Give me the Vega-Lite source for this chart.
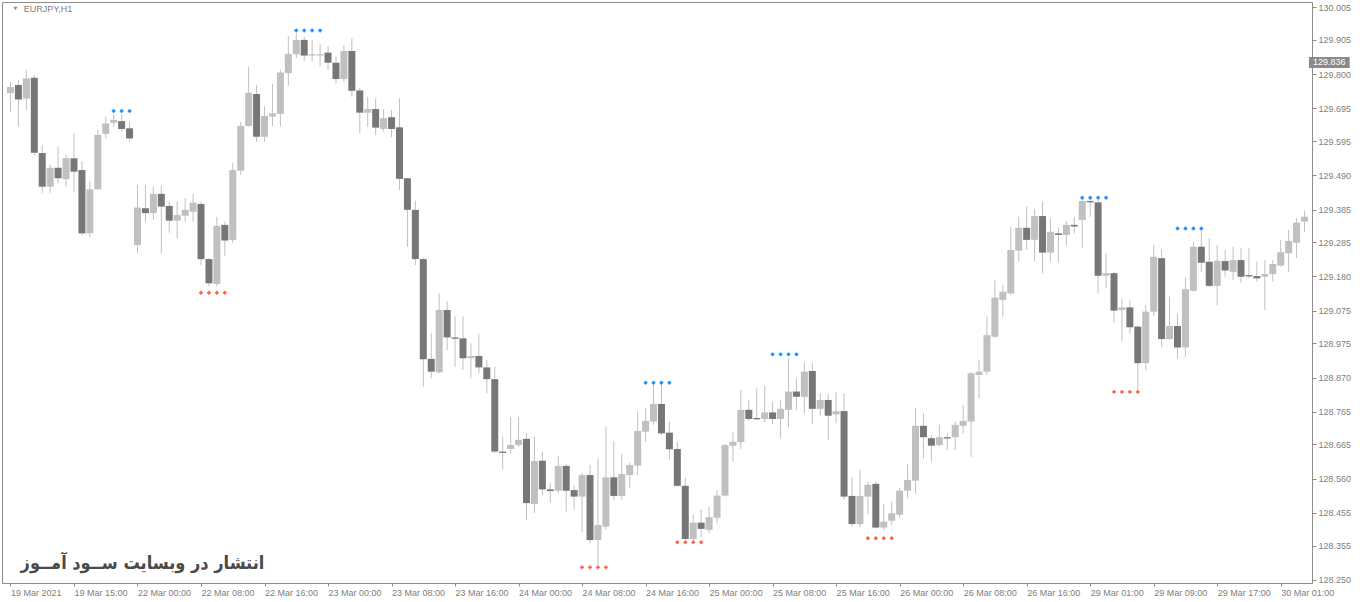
{
"$schema":"https://vega.github.io/schema/vega-lite/v6.json",
"width":1310,"height":581,
"autosize":{"type":"none"},
"padding":{"left":2,"top":2,"right":48,"bottom":19},
"background":"white",
"config":{"view":{"stroke":"#8c8c8c","strokeWidth":1},
 "axis":{"labelFont":"Liberation Sans","labelFontSize":9,"labelColor":"#808080","tickColor":"#8c8c8c","domainColor":"#8c8c8c","grid":false,"labelOverlap":false,"labelFlush":false,"labelBound":false,"tickCount":40},
 "axisX":{"labelAlign":"left","labelBaseline":"top","labelPadding":2,"tickSize":3,"domain":true},
 "axisY":{"tickSize":4,"labelPadding":2,"domain":false,"labelBaseline":"middle"}},
"datasets":{
"candles":[
{"i":0,"o":129.742,"h":129.776,"l":129.684,"c":129.761},
{"i":1,"o":129.767,"h":129.782,"l":129.639,"c":129.722},
{"i":2,"o":129.725,"h":129.813,"l":129.690,"c":129.787},
{"i":3,"o":129.789,"h":129.797,"l":129.552,"c":129.559},
{"i":4,"o":129.558,"h":129.583,"l":129.436,"c":129.455},
{"i":5,"o":129.455,"h":129.522,"l":129.436,"c":129.513},
{"i":6,"o":129.513,"h":129.578,"l":129.465,"c":129.481},
{"i":7,"o":129.478,"h":129.552,"l":129.455,"c":129.542},
{"i":8,"o":129.542,"h":129.620,"l":129.440,"c":129.501},
{"i":9,"o":129.506,"h":129.532,"l":129.307,"c":129.312},
{"i":10,"o":129.312,"h":129.470,"l":129.302,"c":129.447},
{"i":11,"o":129.447,"h":129.629,"l":129.445,"c":129.614},
{"i":12,"o":129.617,"h":129.670,"l":129.603,"c":129.649},
{"i":13,"o":129.651,"h":129.675,"l":129.639,"c":129.660},
{"i":14,"o":129.656,"h":129.675,"l":129.624,"c":129.632},
{"i":15,"o":129.634,"h":129.654,"l":129.593,"c":129.603},
{"i":16,"o":129.276,"h":129.460,"l":129.251,"c":129.391},
{"i":17,"o":129.389,"h":129.460,"l":129.347,"c":129.374},
{"i":18,"o":129.374,"h":129.455,"l":129.353,"c":129.433},
{"i":19,"o":129.433,"h":129.458,"l":129.251,"c":129.394},
{"i":20,"o":129.396,"h":129.409,"l":129.314,"c":129.351},
{"i":21,"o":129.351,"h":129.409,"l":129.297,"c":129.368},
{"i":22,"o":129.366,"h":129.420,"l":129.348,"c":129.384},
{"i":23,"o":129.378,"h":129.433,"l":129.348,"c":129.406},
{"i":24,"o":129.402,"h":129.409,"l":129.215,"c":129.233},
{"i":25,"o":129.233,"h":129.236,"l":129.149,"c":129.159},
{"i":26,"o":129.157,"h":129.363,"l":129.149,"c":129.335},
{"i":27,"o":129.338,"h":129.348,"l":129.243,"c":129.290},
{"i":28,"o":129.292,"h":129.527,"l":129.282,"c":129.506},
{"i":29,"o":129.504,"h":129.654,"l":129.491,"c":129.641},
{"i":30,"o":129.641,"h":129.823,"l":129.639,"c":129.743},
{"i":31,"o":129.739,"h":129.767,"l":129.593,"c":129.608},
{"i":32,"o":129.608,"h":129.702,"l":129.593,"c":129.672},
{"i":33,"o":129.670,"h":129.770,"l":129.641,"c":129.680},
{"i":34,"o":129.678,"h":129.813,"l":129.639,"c":129.805},
{"i":35,"o":129.803,"h":129.917,"l":129.764,"c":129.862},
{"i":36,"o":129.861,"h":129.925,"l":129.849,"c":129.905},
{"i":37,"o":129.905,"h":129.915,"l":129.841,"c":129.857},
{"i":38,"o":129.857,"h":129.905,"l":129.838,"c":129.861},
{"i":39,"o":129.857,"h":129.893,"l":129.823,"c":129.861},
{"i":40,"o":129.866,"h":129.886,"l":129.813,"c":129.835},
{"i":41,"o":129.835,"h":129.854,"l":129.772,"c":129.785},
{"i":42,"o":129.785,"h":129.889,"l":129.777,"c":129.871},
{"i":43,"o":129.871,"h":129.910,"l":129.731,"c":129.749},
{"i":44,"o":129.750,"h":129.757,"l":129.619,"c":129.682},
{"i":45,"o":129.682,"h":129.729,"l":129.639,"c":129.693},
{"i":46,"o":129.693,"h":129.726,"l":129.614,"c":129.636},
{"i":47,"o":129.632,"h":129.692,"l":129.624,"c":129.665},
{"i":48,"o":129.668,"h":129.690,"l":129.607,"c":129.632},
{"i":49,"o":129.637,"h":129.726,"l":129.445,"c":129.479},
{"i":50,"o":129.481,"h":129.482,"l":129.271,"c":129.384},
{"i":51,"o":129.384,"h":129.412,"l":129.215,"c":129.233},
{"i":52,"o":129.233,"h":129.237,"l":128.842,"c":128.926},
{"i":53,"o":128.927,"h":129.006,"l":128.868,"c":128.888},
{"i":54,"o":128.886,"h":129.128,"l":128.883,"c":129.077},
{"i":55,"o":129.077,"h":129.103,"l":128.954,"c":128.993},
{"i":56,"o":128.993,"h":129.057,"l":128.903,"c":128.989},
{"i":57,"o":128.990,"h":129.057,"l":128.893,"c":128.929},
{"i":58,"o":128.929,"h":128.975,"l":128.868,"c":128.936},
{"i":59,"o":128.936,"h":129.004,"l":128.883,"c":128.901},
{"i":60,"o":128.901,"h":128.924,"l":128.822,"c":128.865},
{"i":61,"o":128.865,"h":128.903,"l":128.638,"c":128.643},
{"i":62,"o":128.643,"h":128.689,"l":128.587,"c":128.639},
{"i":63,"o":128.651,"h":128.748,"l":128.638,"c":128.663},
{"i":64,"o":128.663,"h":128.748,"l":128.658,"c":128.679},
{"i":65,"o":128.682,"h":128.699,"l":128.433,"c":128.485},
{"i":66,"o":128.482,"h":128.689,"l":128.454,"c":128.614},
{"i":67,"o":128.615,"h":128.643,"l":128.510,"c":128.527},
{"i":68,"o":128.527,"h":128.546,"l":128.486,"c":128.522},
{"i":69,"o":128.523,"h":128.630,"l":128.515,"c":128.599},
{"i":70,"o":128.599,"h":128.605,"l":128.459,"c":128.523},
{"i":71,"o":128.525,"h":128.541,"l":128.464,"c":128.505},
{"i":72,"o":128.505,"h":128.577,"l":128.397,"c":128.571},
{"i":73,"o":128.571,"h":128.602,"l":128.362,"c":128.372},
{"i":74,"o":128.372,"h":128.622,"l":128.290,"c":128.418},
{"i":75,"o":128.413,"h":128.719,"l":128.403,"c":128.564},
{"i":76,"o":128.564,"h":128.676,"l":128.495,"c":128.507},
{"i":77,"o":128.507,"h":128.636,"l":128.495,"c":128.574},
{"i":78,"o":128.571,"h":128.609,"l":128.531,"c":128.602},
{"i":79,"o":128.600,"h":128.765,"l":128.571,"c":128.706},
{"i":80,"o":128.704,"h":128.776,"l":128.673,"c":128.737},
{"i":81,"o":128.735,"h":128.852,"l":128.725,"c":128.789},
{"i":82,"o":128.789,"h":128.850,"l":128.694,"c":128.699},
{"i":83,"o":128.701,"h":128.735,"l":128.617,"c":128.650},
{"i":84,"o":128.651,"h":128.673,"l":128.535,"c":128.538},
{"i":85,"o":128.538,"h":128.563,"l":128.372,"c":128.375},
{"i":86,"o":128.375,"h":128.449,"l":128.372,"c":128.425},
{"i":87,"o":128.425,"h":128.467,"l":128.379,"c":128.406},
{"i":88,"o":128.403,"h":128.474,"l":128.393,"c":128.442},
{"i":89,"o":128.440,"h":128.525,"l":128.423,"c":128.508},
{"i":90,"o":128.508,"h":128.666,"l":128.505,"c":128.663},
{"i":91,"o":128.661,"h":128.702,"l":128.612,"c":128.673},
{"i":92,"o":128.672,"h":128.832,"l":128.651,"c":128.771},
{"i":93,"o":128.771,"h":128.801,"l":128.737,"c":128.743},
{"i":94,"o":128.746,"h":128.837,"l":128.740,"c":128.742},
{"i":95,"o":128.743,"h":128.845,"l":128.733,"c":128.763},
{"i":96,"o":128.763,"h":128.796,"l":128.727,"c":128.743},
{"i":97,"o":128.743,"h":128.801,"l":128.684,"c":128.774},
{"i":98,"o":128.771,"h":128.929,"l":128.719,"c":128.827},
{"i":99,"o":128.827,"h":128.868,"l":128.771,"c":128.811},
{"i":100,"o":128.811,"h":128.917,"l":128.760,"c":128.888},
{"i":101,"o":128.890,"h":128.914,"l":128.727,"c":128.774},
{"i":102,"o":128.774,"h":128.822,"l":128.753,"c":128.801},
{"i":103,"o":128.801,"h":128.820,"l":128.679,"c":128.753},
{"i":104,"o":128.757,"h":128.824,"l":128.730,"c":128.767},
{"i":105,"o":128.767,"h":128.822,"l":128.495,"c":128.505},
{"i":106,"o":128.507,"h":128.564,"l":128.413,"c":128.421},
{"i":107,"o":128.421,"h":128.587,"l":128.411,"c":128.507},
{"i":108,"o":128.505,"h":128.551,"l":128.452,"c":128.541},
{"i":109,"o":128.544,"h":128.551,"l":128.408,"c":128.410},
{"i":110,"o":128.410,"h":128.482,"l":128.403,"c":128.428},
{"i":111,"o":128.431,"h":128.489,"l":128.418,"c":128.454},
{"i":112,"o":128.449,"h":128.531,"l":128.439,"c":128.523},
{"i":113,"o":128.523,"h":128.605,"l":128.500,"c":128.556},
{"i":114,"o":128.554,"h":128.776,"l":128.513,"c":128.722},
{"i":115,"o":128.722,"h":128.760,"l":128.622,"c":128.687},
{"i":116,"o":128.684,"h":128.694,"l":128.612,"c":128.661},
{"i":117,"o":128.663,"h":128.725,"l":128.658,"c":128.687},
{"i":118,"o":128.687,"h":128.699,"l":128.648,"c":128.683},
{"i":119,"o":128.687,"h":128.735,"l":128.648,"c":128.725},
{"i":120,"o":128.722,"h":128.786,"l":128.699,"c":128.737},
{"i":121,"o":128.735,"h":128.887,"l":128.627,"c":128.883},
{"i":122,"o":128.878,"h":128.924,"l":128.806,"c":128.888},
{"i":123,"o":128.888,"h":129.057,"l":128.878,"c":129.000},
{"i":124,"o":128.995,"h":129.169,"l":128.991,"c":129.115},
{"i":125,"o":129.108,"h":129.154,"l":129.057,"c":129.133},
{"i":126,"o":129.128,"h":129.332,"l":129.123,"c":129.261},
{"i":127,"o":129.259,"h":129.363,"l":129.225,"c":129.329},
{"i":128,"o":129.329,"h":129.394,"l":129.261,"c":129.292},
{"i":129,"o":129.292,"h":129.387,"l":129.227,"c":129.365},
{"i":130,"o":129.365,"h":129.409,"l":129.190,"c":129.253},
{"i":131,"o":129.253,"h":129.358,"l":129.225,"c":129.317},
{"i":132,"o":129.312,"h":129.329,"l":129.223,"c":129.307},
{"i":133,"o":129.307,"h":129.350,"l":129.274,"c":129.338},
{"i":134,"o":129.338,"h":129.363,"l":129.312,"c":129.333},
{"i":135,"o":129.353,"h":129.420,"l":129.268,"c":129.411},
{"i":136,"o":129.411,"h":129.420,"l":129.363,"c":129.407},
{"i":137,"o":129.407,"h":129.414,"l":129.128,"c":129.182},
{"i":138,"o":129.182,"h":129.251,"l":129.144,"c":129.190},
{"i":139,"o":129.190,"h":129.194,"l":129.036,"c":129.075},
{"i":140,"o":129.077,"h":129.113,"l":128.980,"c":129.085},
{"i":141,"o":129.085,"h":129.106,"l":129.004,"c":129.024},
{"i":142,"o":129.026,"h":129.030,"l":128.832,"c":128.914},
{"i":143,"o":128.914,"h":129.092,"l":128.893,"c":129.072},
{"i":144,"o":129.072,"h":129.276,"l":129.059,"c":129.240},
{"i":145,"o":129.236,"h":129.263,"l":128.965,"c":128.988},
{"i":146,"o":128.988,"h":129.118,"l":128.985,"c":129.028},
{"i":147,"o":129.028,"h":129.065,"l":128.929,"c":128.962},
{"i":148,"o":128.962,"h":129.177,"l":128.934,"c":129.141},
{"i":149,"o":129.136,"h":129.286,"l":129.133,"c":129.271},
{"i":150,"o":129.271,"h":129.328,"l":129.194,"c":129.222},
{"i":151,"o":129.225,"h":129.297,"l":129.147,"c":129.151},
{"i":152,"o":129.151,"h":129.276,"l":129.092,"c":129.228},
{"i":153,"o":129.227,"h":129.261,"l":129.179,"c":129.198},
{"i":154,"o":129.194,"h":129.271,"l":129.169,"c":129.230},
{"i":155,"o":129.230,"h":129.266,"l":129.161,"c":129.179},
{"i":156,"o":129.184,"h":129.266,"l":129.174,"c":129.180},
{"i":157,"o":129.181,"h":129.225,"l":129.164,"c":129.174},
{"i":158,"o":129.179,"h":129.230,"l":129.077,"c":129.187},
{"i":159,"o":129.187,"h":129.230,"l":129.164,"c":129.218},
{"i":160,"o":129.213,"h":129.292,"l":129.210,"c":129.254},
{"i":161,"o":129.251,"h":129.322,"l":129.194,"c":129.289},
{"i":162,"o":129.283,"h":129.358,"l":129.236,"c":129.345},
{"i":163,"o":129.348,"h":129.382,"l":129.317,"c":129.363}
],
"dots":[
{"i":13,"p":129.687,"kind":"up"},{"i":14,"p":129.687,"kind":"up"},{"i":15,"p":129.687,"kind":"up"},
{"i":36,"p":129.934,"kind":"up"},{"i":37,"p":129.934,"kind":"up"},{"i":38,"p":129.934,"kind":"up"},{"i":39,"p":129.934,"kind":"up"},
{"i":80,"p":128.854,"kind":"up"},{"i":81,"p":128.854,"kind":"up"},{"i":82,"p":128.854,"kind":"up"},{"i":83,"p":128.854,"kind":"up"},
{"i":96,"p":128.941,"kind":"up"},{"i":97,"p":128.941,"kind":"up"},{"i":98,"p":128.941,"kind":"up"},{"i":99,"p":128.941,"kind":"up"},
{"i":135,"p":129.421,"kind":"up"},{"i":136,"p":129.421,"kind":"up"},{"i":137,"p":129.421,"kind":"up"},{"i":138,"p":129.421,"kind":"up"},
{"i":147,"p":129.327,"kind":"up"},{"i":148,"p":129.327,"kind":"up"},{"i":149,"p":129.327,"kind":"up"},{"i":150,"p":129.327,"kind":"up"},
{"i":24,"p":129.130,"kind":"down"},{"i":25,"p":129.130,"kind":"down"},{"i":26,"p":129.130,"kind":"down"},{"i":27,"p":129.130,"kind":"down"},
{"i":72,"p":128.288,"kind":"down"},{"i":73,"p":128.288,"kind":"down"},{"i":74,"p":128.288,"kind":"down"},{"i":75,"p":128.288,"kind":"down"},
{"i":84,"p":128.365,"kind":"down"},{"i":85,"p":128.365,"kind":"down"},{"i":86,"p":128.365,"kind":"down"},{"i":87,"p":128.365,"kind":"down"},
{"i":108,"p":128.377,"kind":"down"},{"i":109,"p":128.377,"kind":"down"},{"i":110,"p":128.377,"kind":"down"},{"i":111,"p":128.377,"kind":"down"},
{"i":139,"p":128.826,"kind":"down"},{"i":140,"p":128.826,"kind":"down"},{"i":141,"p":128.826,"kind":"down"},{"i":142,"p":128.826,"kind":"down"}
]
},
"layer":[
{"data":{"name":"candles"},
 "mark":{"type":"rule","color":"#c0c0c0","strokeWidth":1},
 "encoding":{
  "x":{"field":"i","type":"quantitative","title":null,
   "scale":{"domain":[-0.4375,163.3125],"nice":false,"zero":false},
   "axis":{"orient":"bottom","title":null,"tickCount":40,"values":[0,8,16,24,32,40,48,56,64,72,80,88,96,104,112,120,128,136,144,152,160],
    "labelExpr":"['19 Mar 2021','19 Mar 15:00','22 Mar 00:00','22 Mar 08:00','22 Mar 16:00','23 Mar 00:00','23 Mar 08:00','23 Mar 16:00','24 Mar 00:00','24 Mar 08:00','24 Mar 16:00','25 Mar 00:00','25 Mar 08:00','25 Mar 16:00','26 Mar 00:00','26 Mar 08:00','26 Mar 16:00','29 Mar 01:00','29 Mar 09:00','29 Mar 17:00','30 Mar 01:00'][round(datum.value/8)]",
    "labelAlign":"left","labelBaseline":"top","labelPadding":2,"tickSize":3,"labelFlush":false,"labelOverlap":false,"labelBound":false,"domain":true}},
  "y":{"field":"l","type":"quantitative","title":null,
   "scale":{"domain":[128.2401,130.0212],"nice":false,"zero":false},
   "axis":{"orient":"right","title":null,"tickCount":40,"values":[130.005,129.905,129.800,129.695,129.595,129.490,129.385,129.285,129.180,129.075,128.975,128.870,128.765,128.665,128.560,128.455,128.355,128.250],
    "format":".3f","tickSize":4,"labelPadding":2,"domain":false,"labelBaseline":"middle","labelFlush":false,"labelOverlap":false,"labelBound":false}},
  "y2":{"field":"h"}
 }},
{"data":{"name":"candles"},
 "mark":{"type":"bar","size":7},
 "encoding":{
  "x":{"field":"i","type":"quantitative","title":null},
  "y":{"field":"o","type":"quantitative","title":null},
  "y2":{"field":"c"},
  "color":{"condition":{"test":"datum.c >= datum.o","value":"#c0c0c0"},"value":"#777777"}
 }},
{"data":{"name":"dots"},
 "mark":{"type":"point","shape":"diamond","filled":true,"size":20,"opacity":1},
 "encoding":{
  "x":{"field":"i","type":"quantitative","title":null},
  "y":{"field":"p","type":"quantitative","title":null},
  "color":{"condition":{"test":"datum.kind == 'up'","value":"#1e90ff"},"value":"#ff6347"}
 }},
{"data":{"values":[{"label":"انتشار در وبسایت ســود آمــوز"}]},
 "mark":{"type":"text","font":"DejaVu Sans Condensed","fontSize":18,"fontWeight":"bold","color":"#4a4a4a","align":"center","baseline":"middle"},
 "encoding":{
  "x":{"datum":16.625,"type":"quantitative","title":null},
  "y":{"datum":128.2983,"type":"quantitative","title":null},
  "text":{"field":"label"}
 }},
{"data":{"values":[{"label":"EURJPY,H1"}]},
 "mark":{"type":"text","font":"Liberation Sans","fontSize":9,"color":"#808080","align":"left","baseline":"middle"},
 "encoding":{
  "x":{"datum":1.6875,"type":"quantitative","title":null},
  "y":{"datum":129.9997,"type":"quantitative","title":null},
  "text":{"field":"label"}
 }},
{"data":{"values":[{"label":"EURJPY,H1"}]},
 "mark":{"type":"point","shape":"triangle-down","filled":true,"size":18,"color":"#909090","opacity":1},
 "encoding":{
  "x":{"datum":0.625,"type":"quantitative","title":null},
  "y":{"datum":130.0013,"type":"quantitative","title":null}
 }},
{"data":{"values":[{"price":129.836}]},
 "mark":{"type":"rect","color":"#8a8a8a","clip":false},
 "encoding":{
  "x":{"datum":163.56,"type":"quantitative","title":null},
  "x2":{"datum":168.69},
  "y":{"datum":129.8527,"type":"quantitative","title":null},
  "y2":{"datum":129.8189}
 }},
{"data":{"values":[{"price":129.836}]},
 "mark":{"type":"text","font":"Liberation Sans","fontSize":9,"color":"white","align":"center","baseline":"middle","clip":false},
 "encoding":{
  "x":{"datum":166.125,"type":"quantitative","title":null},
  "y":{"field":"price","type":"quantitative","title":null},
  "text":{"field":"price","type":"quantitative","format":".3f"}
 }}
]
}
